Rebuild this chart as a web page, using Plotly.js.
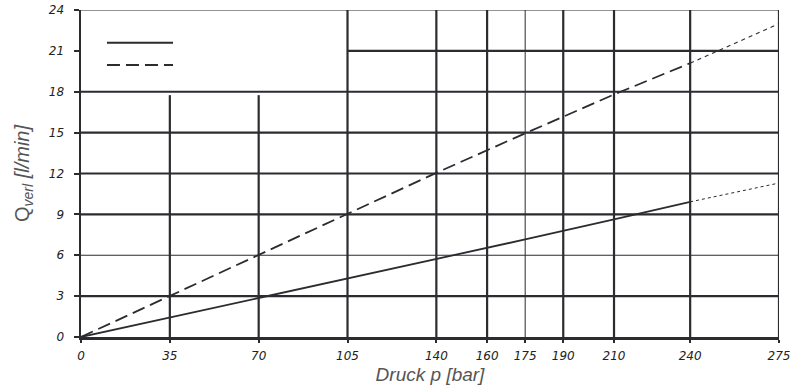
<!DOCTYPE html>
<html>
<head>
<meta charset="utf-8">
<script src="https://cdn.plot.ly/plotly-3.0.1.min.js"></script>
<style>html,body{margin:0;padding:0;background:#fff}#chart{width:800px;height:389px}</style>
</head>
<body>
<div id="chart"></div>
<script>
// ---- data ----
const xTicks = [0, 35, 70, 105, 140, 160, 175, 190, 210, 240, 275];
const yTicks = [0, 3, 6, 9, 12, 15, 18, 21, 24];

const pressureMain = [0, 35, 70, 105, 140, 175, 210, 240];
const qSolid      = [0, 1.43, 2.89, 4.29, 5.71, 7.16, 8.63, 9.92];
const qDashed     = [0, 3.0, 6.0, 9.0, 12.05, 14.95, 17.8, 20.1];
const pressureExt = [240, 275];
const qSolidExt   = [9.92, 11.3];
const qDashedExt  = [20.1, 23.0];

// grid description
const fullVGrid   = [105, 140, 160, 190, 210, 240, 275];
const thinVGrid   = [175];
const shortVGrid  = [35, 70];      // stop just below 18
const shortVTop   = 17.75;
const fullHGrid   = [3, 9, 12, 15, 18];
const thinHGrid   = [6, 24];
const partHGrid   = [21];          // from 105 to 275
const partHStart  = 105;

const ink = '#2b2b30';

const shapes = [];
fullVGrid.forEach(v => shapes.push({type:'line', xref:'x', yref:'y', x0:v, x1:v, y0:0, y1:24, line:{color:ink, width:2.2}}));
thinVGrid.forEach(v => shapes.push({type:'line', xref:'x', yref:'y', x0:v, x1:v, y0:0, y1:24, line:{color:ink, width:1}}));
shortVGrid.forEach(v => shapes.push({type:'line', xref:'x', yref:'y', x0:v, x1:v, y0:0, y1:shortVTop, line:{color:ink, width:2.2}}));
fullHGrid.forEach(h => shapes.push({type:'line', xref:'x', yref:'y', x0:0, x1:275, y0:h, y1:h, line:{color:ink, width:2.2}}));
thinHGrid.forEach(h => shapes.push({type:'line', xref:'x', yref:'y', x0:0, x1:275, y0:h, y1:h, line:{color:ink, width:1.2}}));
partHGrid.forEach(h => shapes.push({type:'line', xref:'x', yref:'y', x0:partHStart, x1:275, y0:h, y1:h, line:{color:ink, width:2.2}}));
// legend samples (no text in reference)
shapes.push({type:'line', xref:'paper', yref:'paper', x0:0.0372, x1:0.1318, y0:0.9, y1:0.9, line:{color:ink, width:2}});
shapes.push({type:'line', xref:'paper', yref:'paper', x0:0.0372, x1:0.1318, y0:0.832, y1:0.832, line:{color:ink, width:2, dash:'13px,6px'}});

const traces = [
  {x: pressureMain, y: qSolid, mode:'lines', line:{color:ink, width:1.8}, hoverinfo:'skip'},
  {x: pressureExt, y: qSolidExt, mode:'lines', line:{color:ink, width:1, dash:'3px,3px'}, hoverinfo:'skip'},
  {x: pressureMain, y: qDashed, mode:'lines', line:{color:ink, width:1.8, dash:'13px,6px'}, hoverinfo:'skip'},
  {x: pressureExt, y: qDashedExt, mode:'lines', line:{color:ink, width:1.1, dash:'4px,4px'}, hoverinfo:'skip'}
];

const tickFont = {family:'DejaVu Sans', size:12, color:'#222', style:'italic'};
const layout = {
  width: 800, height: 389,
  margin: {l:81, r:21, t:10, b:52},
  paper_bgcolor:'#fff', plot_bgcolor:'#fff',
  showlegend:false,
  shapes: shapes,
  xaxis: {
    range:[0,275], tickmode:'array', tickvals:xTicks, ticktext:xTicks.map(String),
    showgrid:false, zeroline:false, showline:true, linecolor:ink, linewidth:2.5,
    ticks:'outside', ticklen:3, tickwidth:2, tickcolor:ink,
    tickfont: tickFont, tickangle:0, ticklabelstandoff:3,
    title:{text:'Druck p [bar]', font:{family:'Liberation Sans', size:19, color:'#555', style:'italic'}, standoff:6}
  },
  yaxis: {
    range:[0,24], tickmode:'array', tickvals:yTicks, ticktext:yTicks.map(String),
    showgrid:false, zeroline:false, showline:true, linecolor:ink, linewidth:2.5,
    ticks:'outside', ticklen:5, tickwidth:2, tickcolor:ink,
    tickfont: tickFont, ticklabelstandoff:7,
    title:{text:'Q<sub><i>verl</i></sub><i> [l/min]</i>', font:{family:'Liberation Sans', size:20, color:'#555'}, standoff:14}
  }
};

Plotly.newPlot('chart', traces, layout, {staticPlot:true, displayModeBar:false});
</script>
</body>
</html>
